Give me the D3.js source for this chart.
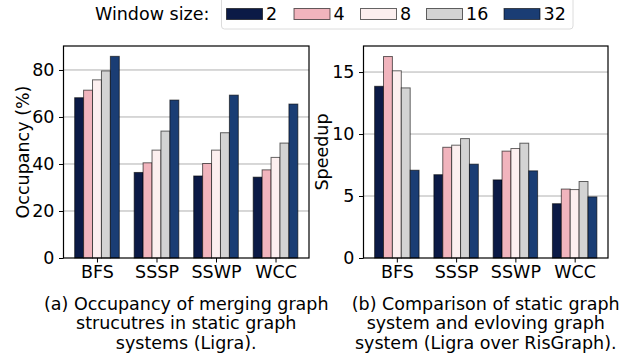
<!DOCTYPE html>
<html>
<head>
<meta charset="utf-8">
<script src="https://cdn.jsdelivr.net/npm/d3@7"></script>
<style>
  body { margin: 0; background: #fff; }
  text { font-family: "DejaVu Sans", sans-serif; fill: #000; }
</style>
</head>
<body>
<div id="chart"></div>
<script>
// Data
const categories = ["BFS", "SSSP", "SSWP", "WCC"];
const windowSizes = ["2", "4", "8", "16", "32"];
const colors = ["#0b1a46", "#f1b4bd", "#fcefef", "#d3d3d3", "#1a3d74"];

// occupancy (%) per window size, order BFS, SSSP, SSWP, WCC
const occ2 = [68.2, 36.4, 34.9, 34.4];
const occ4 = [71.4, 40.5, 40.2, 37.5];
const occ8 = [75.8, 45.9, 45.9, 42.8];
const occ16 = [79.6, 54.0, 53.3, 48.9];
const occ32 = [85.8, 67.2, 69.3, 65.5];

// speedup per window size
const sp2 = [13.85, 6.72, 6.3, 4.38];
const sp4 = [16.25, 8.93, 8.62, 5.56];
const sp8 = [15.1, 9.1, 8.83, 5.52];
const sp16 = [13.72, 9.63, 9.26, 6.17];
const sp32 = [7.08, 7.57, 7.03, 4.93];

const occTicks = [0, 20, 40, 60, 80];
const spTicks = [0, 5, 10, 15];

const W = 641, H = 357, FS = 17.5;
const barW = 0.15;

const svg = d3.select("#chart").append("svg")
    .attr("width", W).attr("height", H);

// Legend
svg.append("text")
    .attr("x", 95).attr("y", 19.5)
    .attr("font-size", FS)
    .text("Window size:");

svg.append("rect")
    .attr("x", 221.5).attr("y", -6)
    .attr("width", 351.5).attr("height", 35)
    .attr("rx", 3)
    .attr("fill", "#fff")
    .attr("stroke", "#dcdcdc")
    .attr("stroke-width", 1);

const legendX = [226.5, 294, 360.5, 426.5, 504];
windowSizes.forEach((w, j) => {
    svg.append("rect")
        .attr("x", legendX[j]).attr("y", 8.5)
        .attr("width", 36).attr("height", 11)
        .attr("fill", colors[j])
        .attr("stroke", "#000").attr("stroke-opacity", 0.6)
        .attr("stroke-width", 1);
    svg.append("text")
        .attr("x", legendX[j] + 39.5).attr("y", 19.5)
        .attr("font-size", FS)
        .text(w);
});

function drawPanel(opt) {
    const left = opt.left, right = opt.right, top = 46, bottom = 258;

    const xScale = d3.scaleLinear().domain([-0.5625, 3.5625]).range([left, right]);
    const yScale = d3.scaleLinear().domain([0, opt.ymax]).range([bottom, top]);

    const g = svg.append("g");

    // grid
    g.selectAll(".grid")
        .data(opt.ticks.filter(t => t > 0))
        .enter().append("line")
        .attr("x1", left).attr("x2", right)
        .attr("y1", d => yScale(d)).attr("y2", d => yScale(d))
        .attr("stroke", "#b0b0b0").attr("stroke-width", 1);

    // bars
    opt.series.forEach((vals, j) => {
        g.selectAll(null)
            .data(vals)
            .enter().append("rect")
            .attr("x", (d, i) => xScale(i + (j - 2) * barW - barW / 2))
            .attr("width", xScale(barW) - xScale(0))
            .attr("y", d => yScale(d))
            .attr("height", d => bottom - yScale(d))
            .attr("fill", colors[j])
            .attr("stroke", "#000")
            .attr("stroke-opacity", 0.6)
            .attr("stroke-width", 1);
    });

    // axes
    const yAxis = d3.axisLeft(yScale).tickValues(opt.ticks).tickSize(4.5).tickPadding(4.5);
    const yg = g.append("g").attr("transform", `translate(${left},0)`).call(yAxis);
    yg.select(".domain").remove();
    yg.selectAll("text").attr("font-size", FS).attr("font-family", null);
    yg.selectAll("line").attr("stroke", "#000").attr("stroke-width", 1);

    const xAxis = d3.axisBottom(xScale).tickValues([0, 1, 2, 3])
        .tickFormat(i => categories[i]).tickSize(4.5).tickPadding(3);
    const xg = g.append("g").attr("transform", `translate(0,${bottom})`).call(xAxis);
    xg.select(".domain").remove();
    xg.selectAll("text").attr("font-size", FS).attr("font-family", null);
    xg.selectAll("line").attr("stroke", "#000").attr("stroke-width", 1);

    // frame
    g.append("rect")
        .attr("x", left).attr("y", top)
        .attr("width", right - left).attr("height", bottom - top)
        .attr("fill", "none").attr("stroke", "#000").attr("stroke-width", 1.2);

    // y label
    g.append("text")
        .attr("transform", `translate(${opt.labelX},${(top + bottom) / 2}) rotate(-90)`)
        .attr("text-anchor", "middle")
        .attr("font-size", FS)
        .text(opt.ylabel);

    // caption
    const cx = (left + right) / 2;
    opt.caption.forEach((line, k) => {
        g.append("text")
            .attr("x", cx).attr("y", 309.5 + k * 19.5)
            .attr("text-anchor", "middle")
            .attr("font-size", FS)
            .text(line);
    });
}

drawPanel({
    left: 63.5, right: 309,
    ymax: 90.2,
    ticks: occTicks,
    series: [occ2, occ4, occ8, occ16, occ32],
    ylabel: "Occupancy (%)",
    labelX: 29,
    caption: ["(a) Occupancy of merging graph", "strucutres in static graph", "systems (Ligra)."]
});

drawPanel({
    left: 363.5, right: 608,
    ymax: 17.1,
    ticks: spTicks,
    series: [sp2, sp4, sp8, sp16, sp32],
    ylabel: "Speedup",
    labelX: 328,
    caption: ["(b) Comparison of static graph", "system and evloving graph", "system (Ligra over RisGraph)."]
});
</script>
</body>
</html>
